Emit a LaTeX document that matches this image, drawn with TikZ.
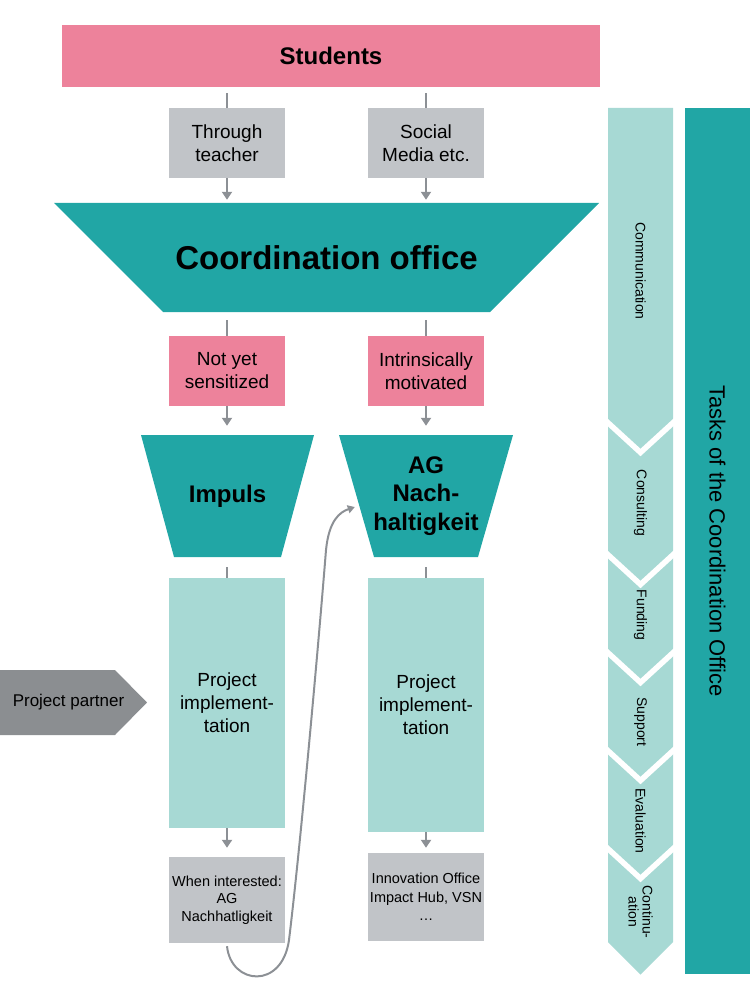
\documentclass[tikz,border=0pt]{standalone}
\usepackage{fontspec}
\setmainfont{Liberation Sans}
\usetikzlibrary{arrows.meta}
\definecolor{cpink}{RGB}{237,130,155}
\definecolor{cgray}{RGB}{193,196,200}
\definecolor{cteal}{RGB}{33,166,165}
\definecolor{clight}{RGB}{167,217,212}
\definecolor{carrow}{RGB}{140,144,149}
\definecolor{cpartner}{RGB}{139,142,145}
\begin{document}
\begin{tikzpicture}[x=1pt,y=-1pt,
  box/.style={inner sep=0pt, minimum width=116pt, align=center, font=\fontsize{19}{23}\selectfont},
  pinkbox/.style={box, fill=cpink, minimum height=70pt},
  graybox/.style={box, fill=cgray},
  lightbox/.style={box, fill=clight},
  funnel/.style={inner sep=0pt, align=center, font=\fontsize{24}{28.5}\selectfont\bfseries,
    path picture={\fill[cteal] (path picture bounding box.north west) -- (path picture bounding box.north east)
      -- ([xshift=-#1]path picture bounding box.south east) -- ([xshift=#1]path picture bounding box.south west) -- cycle;}},
  stub/.style={draw=carrow, line width=2.6pt},
  arr/.style={stub, -{Triangle[width=10pt,length=8pt]}},
  task/.style={rotate=-90, font=\fontsize{14}{14}\selectfont, align=center, inner sep=0pt},
  sep/.style={draw=white, line width=5.5pt, line join=miter},
]
\useasboundingbox (0,0) rectangle (750,1000);

% top
\node[fill=cpink, minimum width=538pt, minimum height=62pt, inner sep=0pt,
  font=\fontsize{24}{28}\selectfont\bfseries] (students) at (331,56) {Students};
\node[graybox, minimum height=70pt] (tt) at (227,143) {Through\\teacher};
\node[graybox, minimum height=70pt] (sm) at (426,143) {Social\\Media etc.};

\node[funnel=109pt, minimum width=545pt, minimum height=109pt,
  font=\fontsize{33}{38}\selectfont\bfseries] (coord) at (326.5,257.5) {Coordination office};

\node[pinkbox] (nys) at (227,371) {Not yet\\sensitized};
\node[pinkbox] (im) at (426,371) {Intrinsically\\motivated};

\node[funnel=33pt, minimum width=173pt, minimum height=122pt] (impuls) at (227.5,496) {Impuls};
\node[funnel=35pt, minimum width=174pt, minimum height=122pt] (ag) at (426,496) {AG\\Nach-\\haltigkeit};

\node[lightbox, minimum height=250pt] (pi1) at (227,703) {Project\\implement-\\tation};
\node[lightbox, minimum height=254pt] (pi2) at (426,705) {Project\\implement-\\tation};

\node[graybox, minimum height=86pt, font=\fontsize{14.5}{17.5}\selectfont] (wi) at (227,900) {When interested:\\AG\\Nachhatligkeit};
\node[graybox, minimum height=88pt, font=\fontsize{14.5}{18.5}\selectfont] (io) at (426,897) {Innovation Office\\Impact Hub, VSN\\…};

% project partner
\node[inner sep=0pt, minimum width=147pt, minimum height=65pt, font=\fontsize{17}{20}\selectfont,
  path picture={\fill[cpartner] (path picture bounding box.north west) -- ([xshift=-32pt]path picture bounding box.north east)
    -- (path picture bounding box.east) -- ([xshift=-32pt]path picture bounding box.south east)
    -- (path picture bounding box.south west) -- cycle;}] (pp) at (73.5,702.5) {\hspace*{-10pt}Project partner};

% connectors
\draw[stub] ([yshift=-6pt]students.south -| tt.north) -- (tt.north);
\draw[stub] ([yshift=-6pt]students.south -| sm.north) -- (sm.north);
\draw[arr] (tt.south) -- ([yshift=3pt]coord.north -| tt.south);
\draw[arr] (sm.south) -- ([yshift=3pt]coord.north -| sm.south);
\draw[stub] ([yshift=-8pt]coord.south -| nys.north) -- (nys.north);
\draw[stub] ([yshift=-8pt]coord.south -| im.north) -- (im.north);
\draw[arr] (nys.south) -- ([yshift=9pt]impuls.north -| nys.south);
\draw[arr] (im.south) -- ([yshift=9pt]ag.north -| im.south);
\draw[stub] ([yshift=-10pt]impuls.south -| pi1.north) -- (pi1.north);
\draw[stub] ([yshift=-10pt]ag.south -| pi2.north) -- (pi2.north);
\draw[arr] (pi1.south) -- ([yshift=9pt]wi.north);
\draw[arr] (pi2.south) -- ([yshift=5pt]io.north);
\draw[draw=carrow, line width=2pt, -{Triangle[width=8pt,length=7pt]}]
  ([yshift=-3pt]wi.south) .. controls (231,985) and (282,990) .. (289,940)
  .. controls (300,850) and (318,650) .. (326,550)
  .. controls (329,520) and (340,512) .. ([xshift=16pt,yshift=-11pt]ag.west);

% tasks column
\fill[clight] (608,108) -- (673,108) -- (673,942) -- (640.5,974.5) -- (608,942) -- cycle;
\foreach \yy in {420,552,650,748,846}{
  \draw[sep] (605,\yy) -- (640.5,{\yy+32.5}) -- (676,\yy);
}
\node[task] (t1) at (640.5,271) {Communication};
\node[task] (t2) at (640.5,503) {Consulting};
\node[task] (t3) at (640.5,615) {Funding};
\node[task] (t4) at (640.5,722) {Support};
\node[task] (t5) at (640.5,821) {Evaluation};
\node[task] (t6) at (640.5,912) {Continu-\\ation};

\node[fill=cteal, rotate=-90, minimum width=866pt, minimum height=65pt, inner sep=0pt,
  font=\fontsize{22}{26}\selectfont] (tasks) at (717.5,541) {Tasks of the Coordination Office};
\end{tikzpicture}
\end{document}
